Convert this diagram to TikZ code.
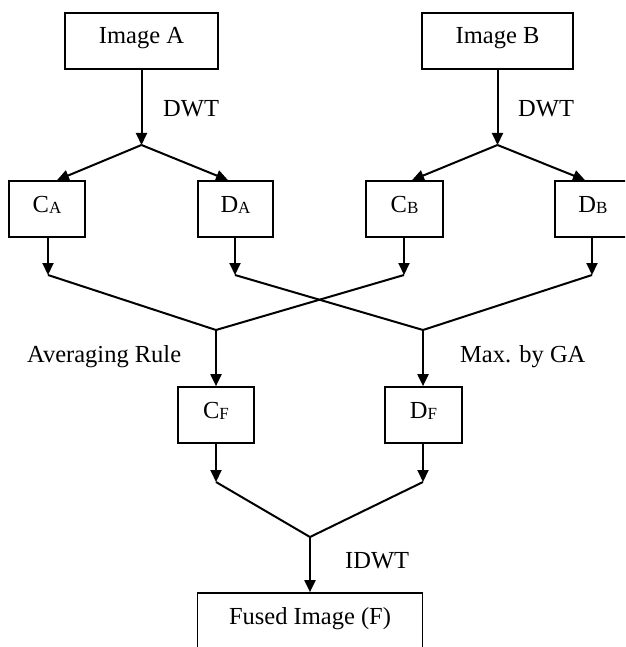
\documentclass[tikz,border=0pt]{standalone}
\usepackage{fontspec}
\setmainfont{Liberation Serif}
\usetikzlibrary{arrows.meta}
\newcommand{\sbx}[2]{#1\raisebox{-0.08em}{\fontsize{17}{18}\selectfont #2}}
\begin{document}
\begin{tikzpicture}[x=1pt,y=-1pt,
  every node/.style={font=\fontsize{24.5}{28}\selectfont},
  box/.style={draw,line width=1.7pt,inner sep=0pt,text height=12pt,text depth=6pt,minimum height=56pt},
  lbl/.style={inner sep=0pt,anchor=base west},
  conn/.style={line width=2pt},
  arr/.style={conn,-{Triangle[length=12pt,width=11pt]}}]
\clip (0,0) rectangle (625,647);
\fill[white] (0,0) rectangle (625,647);
% boxes
\node[box,minimum width=153pt] (ia) at (141.5,41) {Image A};
\node[box,minimum width=151pt] (ib) at (497.5,41) {Image B};
\node[box,minimum width=76pt] (ca) at (47,209) {\sbx{C}{A}};
\node[box,minimum width=75pt] (da) at (235.5,209) {\sbx{D}{A}};
\node[box,minimum width=77pt] (cb) at (404.5,209) {\sbx{C}{B}};
\node[box,minimum width=76pt] (db) at (593,209) {\sbx{D}{B}};
\node[box,minimum width=76pt] (cf) at (216,415) {\sbx{C}{F}};
\node[box,minimum width=77pt] (df) at (423.5,415) {\sbx{D}{F}};
\node[box,minimum width=225pt] (fu) at (310,621) {Fused Image (F)};
% junction coordinates
\coordinate (sa) at (141.5,145);
\coordinate (sb) at (497.5,145);
\coordinate (ta) at (48,275);
\coordinate (tda) at (235,275);
\coordinate (tcb) at (404,275);
\coordinate (tdb) at (592,275);
\coordinate (mc) at (216,330);
\coordinate (md) at (423,330);
\coordinate (tcf) at (216,482);
\coordinate (tdf) at (423,482);
\coordinate (mf) at (310,537);
% connectors
\draw[arr] (ia.south) -- (sa);
\draw[arr] (sa) -- (ca.north -| 57,0);
\draw[arr] (sa) -- (da.north -| 228,0);
\draw[arr] (ib.south) -- (sb);
\draw[arr] (sb) -- (cb.north -| 412,0);
\draw[arr] (sb) -- (db.north -| 585,0);
\draw[arr] (ca.south -| ta) -- (ta);
\draw[arr] (da.south -| tda) -- (tda);
\draw[arr] (cb.south -| tcb) -- (tcb);
\draw[arr] (db.south -| tdb) -- (tdb);
\draw[conn] (ta) -- (mc) -- (tcb);
\draw[conn] (tda) -- (md) -- (tdb);
\draw[arr] (mc) -- (cf.north);
\draw[arr] (md) -- (df.north -| md);
\draw[arr] (cf.south -| tcf) -- (tcf);
\draw[arr] (df.south -| tdf) -- (tdf);
\draw[conn] (tcf) -- (mf) -- (tdf);
\draw[arr] (mf) -- (fu.north);
% labels
\node[lbl] (l1) at (163,117) {DWT};
\node[lbl] (l2) at (518,117) {DWT};
\node[lbl] (l3) at (27,362) {Averaging Rule};
\node[lbl] (l4) at (460,362) {Max. by GA};
\node[lbl] (l5) at (345,568) {IDWT};
\end{tikzpicture}
\end{document}
